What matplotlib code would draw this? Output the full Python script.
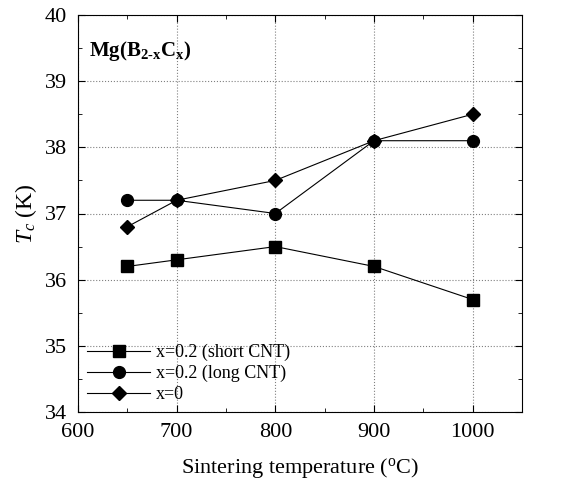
import numpy as np
import matplotlib
matplotlib.use("Agg")
import matplotlib.pyplot as plt
from matplotlib.ticker import MultipleLocator

plt.rcParams['font.family'] = ['Liberation Serif', 'DejaVu Serif']
plt.rcParams['mathtext.fontset'] = 'custom'
plt.rcParams['mathtext.rm'] = 'Liberation Serif'
plt.rcParams['mathtext.it'] = 'Liberation Serif:italic'
plt.rcParams['mathtext.bf'] = 'Liberation Serif:bold'

# data
temps = [650, 700, 800, 900, 1000]
tc_short = [36.2, 36.3, 36.5, 36.2, 35.7]
tc_long = [37.2, 37.2, 37.0, 38.1, 38.1]
tc_pure = [36.8, 37.2, 37.5, 38.1, 38.5]
labels = ["x=0.2 (short CNT)", "x=0.2 (long CNT)", "x=0"]

fig = plt.figure(figsize=(5.75, 4.84), dpi=100)
ax = fig.add_axes([78/575, 1 - 412/484, (522-78)/575, (412-15)/484])

ax.plot(temps, tc_short, color="black", lw=0.8, marker="s", ms=8, label=labels[0])
ax.plot(temps, tc_long, color="black", lw=0.8, marker="o", ms=8.5, label=labels[1])
ax.plot(temps, tc_pure, color="black", lw=0.8, marker="D", ms=7.5, label=labels[2])

ax.set_xlim(600, 1050)
ax.set_ylim(34, 40)
ax.xaxis.set_major_locator(MultipleLocator(100))
ax.xaxis.set_minor_locator(MultipleLocator(50))
ax.yaxis.set_major_locator(MultipleLocator(1))
ax.yaxis.set_minor_locator(MultipleLocator(0.5))
ax.tick_params(which="both", direction="in", top=True, right=True, labelsize=16, pad=8)
ax.tick_params(which="major", length=5)
ax.tick_params(which="minor", length=3)
ax.grid(True, which="major", ls=":", color="gray", lw=0.8)

ax.set_xlabel("Sintering temperature ($^{\\rm o}$C)", fontsize=16, labelpad=10)
ax.set_ylabel("$T_c$ (K)", fontsize=17, labelpad=4)

ax.text(0.025, 0.94, "Mg(B$_{\\mathbf{2\\text{-}x}}$C$_{\\mathbf{x}}$)", transform=ax.transAxes,
        fontsize=15, fontweight="bold", va="top")

ax.legend(loc="lower left", frameon=False, fontsize=13, handlelength=3.5,
          borderaxespad=0.1, labelspacing=0.2, handletextpad=0.3)

plt.savefig("out.png", dpi=100)
